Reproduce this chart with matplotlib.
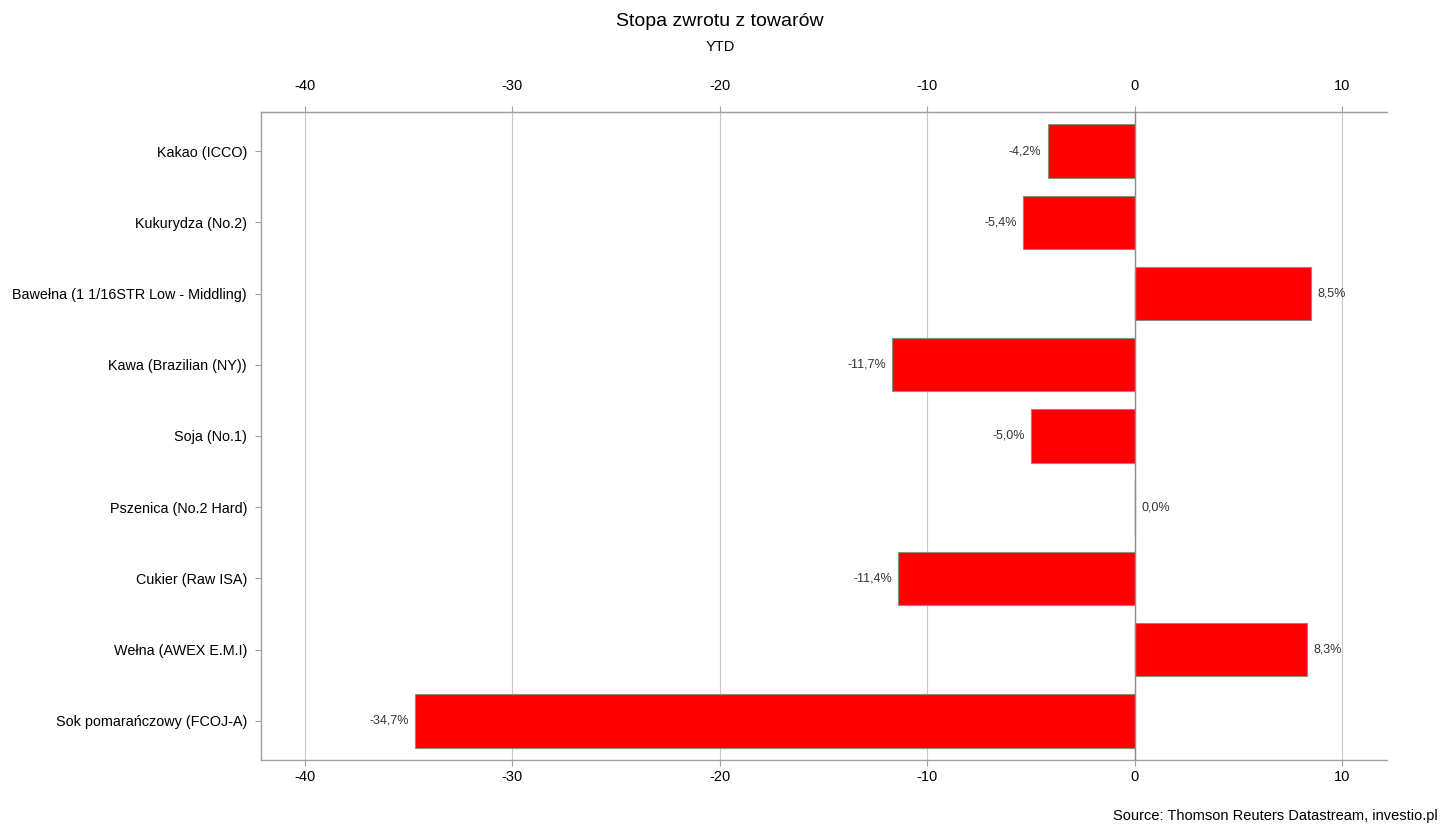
"""Commodity returns YTD, horizontal bar chart with labelled values."""

import matplotlib.pyplot as plt
import numpy as np

plt.rcParams["font.family"] = ["Liberation Sans", "DejaVu Sans"]

commodities = [
    "Kakao (ICCO)",
    "Kukurydza (No.2)",
    "Bawełna (1 1/16STR Low - Middling)",
    "Kawa (Brazilian (NY))",
    "Soja (No.1)",
    "Pszenica (No.2 Hard)",
    "Cukier (Raw ISA)",
    "Wełna (AWEX E.M.I)",
    "Sok pomarańczowy (FCOJ-A)",
]
returns_ytd = [-4.2, -5.4, 8.5, -11.7, -5.0, 0.0, -11.4, 8.3, -34.7]
x_ticks = [-40, -30, -20, -10, 0, 10]

grid_col = "#c8c8c8"
spine_col = "#a0a0a0"

fig = plt.figure(figsize=(14.4, 8.24), dpi=100)
ax = fig.add_axes([261 / 1440, 1 - 760 / 824, (1387 - 261) / 1440, (760 - 112) / 824])

y = np.arange(len(commodities))
ax.barh(y, returns_ytd, height=0.75, color="#ff0000", edgecolor="#8c8c8c",
        linewidth=0.8, zorder=3)
ax.axvline(0, color="#8c8c8c", linewidth=1.0, zorder=4)

for yi, v in zip(y, returns_ytd):
    txt = f"{v:.1f}%".replace(".", ",")
    if v < 0:
        ax.text(v - 0.3, yi, txt, ha="right", va="center", fontsize=9, color="#333333")
    else:
        ax.text(v + 0.3, yi, txt, ha="left", va="center", fontsize=9, color="#333333")

ax.set_xlim(-42.12, 12.15)
ax.set_ylim(len(commodities) - 0.45, -0.55)
ax.set_xticks(x_ticks)
ax.set_xticklabels([str(t) for t in x_ticks])
ax.set_yticks(y)
ax.set_yticklabels(commodities)

ax.grid(axis="x", color=grid_col, linewidth=0.8, zorder=0)
ax.tick_params(axis="x", direction="out", length=4, color=spine_col,
               labelsize=10.5, pad=3)
ax.tick_params(axis="y", direction="out", length=4, color=spine_col,
               labelsize=10.4, pad=6)

# same scale repeated above the plot
top = ax.secondary_xaxis("top")
top.set_xticks(x_ticks)
top.set_xticklabels([str(t) for t in x_ticks])
top.tick_params(direction="out", length=4, color=spine_col, labelsize=10.5, pad=10)
top.spines["top"].set_color(spine_col)

for side in ["left", "top", "bottom"]:
    ax.spines[side].set_color(spine_col)
    ax.spines[side].set_linewidth(1.0)
ax.spines["right"].set_visible(False)

fig.text(0.5, 1 - 22 / 824, "Stopa zwrotu z towarów", ha="center", va="center", fontsize=14)
fig.text(0.5, 1 - 47 / 824, "YTD", ha="center", va="center", fontsize=10.5)
fig.text(1438 / 1440, 1 - 816 / 824, "Source: Thomson Reuters Datastream, investio.pl",
         ha="right", va="center", fontsize=10.5)

fig.savefig("out.png", dpi=100)
